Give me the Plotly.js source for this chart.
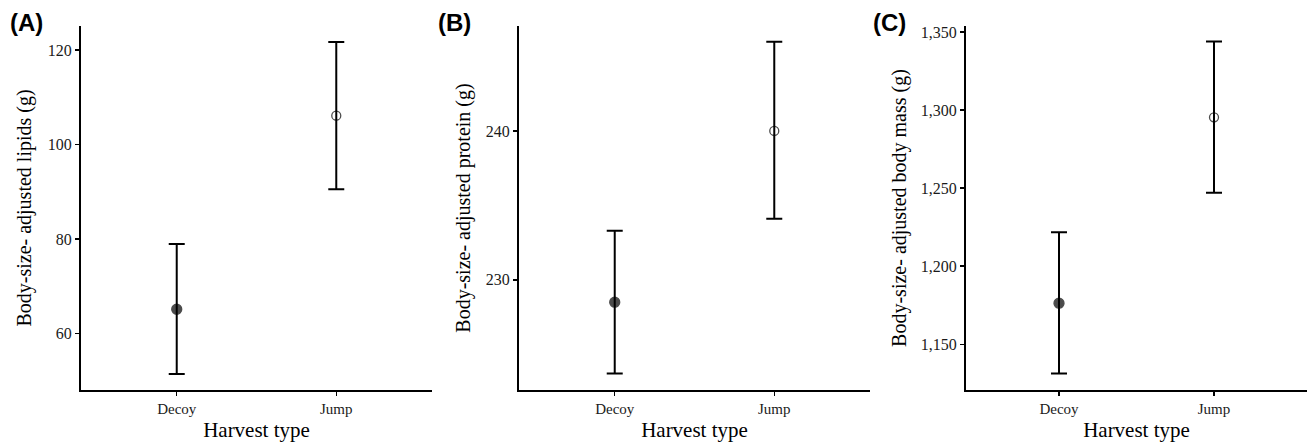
<!DOCTYPE html>
<html>
<head>
<meta charset="utf-8">
<script src="https://cdn.plot.ly/plotly-3.0.1.min.js"></script>
<style>html,body{margin:0;padding:0;background:#fff;}#chart{width:1309px;height:447px;}</style>
</head>
<body>
<div id="chart"></div>
<script>
// ---- data ----
const categories = ["Decoy", "Jump"];
const lipidsMean = [65.1, 106.1];
const lipidsUpper = [78.9, 121.7];
const lipidsLower = [51.4, 90.5];
const proteinMean = [228.5, 240.0];
const proteinUpper = [233.3, 246.0];
const proteinLower = [223.7, 234.1];
const massMean = [1176.3, 1295.3];
const massUpper = [1221.8, 1343.8];
const massLower = [1131.2, 1247.0];
const panelLabels = ["(A)", "(B)", "(C)"];
const yTitles = ["Body-size- adjusted lipids (g)", "Body-size- adjusted protein (g)", "Body-size- adjusted body mass (g)"];
const xTitle = "Harvest type";

const W = 1309, H = 447;
const serif = "Liberation Serif, Times New Roman, serif";
const yDom = [(H - 390) / H, (H - 26) / H];
const xDoms = [[81 / W, 432 / W], [519 / W, 870 / W], [966 / W, 1307 / W]];
const yRanges = [[48.0, 125.1], [222.6, 247.05], [1120.7, 1353.8]];
const yTicks = [[60, 80, 100, 120], [230, 240], [1150, 1200, 1250, 1300, 1350]];

const series = [
  [lipidsMean, lipidsUpper, lipidsLower],
  [proteinMean, proteinUpper, proteinLower],
  [massMean, massUpper, massLower]
];

const traces = [];
series.forEach((s, i) => {
  const [m, u, l] = s;
  const xa = i === 0 ? "x" : "x" + (i + 1);
  const ya = i === 0 ? "y" : "y" + (i + 1);
  traces.push({
    type: "scatter", mode: "markers",
    x: categories, y: m, xaxis: xa, yaxis: ya,
    marker: {
      symbol: ["circle", "circle-open"],
      size: [10, 9],
      color: "#000",
      line: {color: "#000", width: 1.3}
    },
    error_y: {
      type: "data", symmetric: false,
      array: u.map((v, k) => v - m[k]),
      arrayminus: l.map((v, k) => m[k] - v),
      color: "#000", thickness: 2, width: 8
    },
    showlegend: false, hoverinfo: "x+y"
  });
});

const layout = {
  width: W, height: H,
  margin: {l: 0, r: 0, t: 0, b: 0},
  paper_bgcolor: "#fff", plot_bgcolor: "#fff",
  showlegend: false,
  annotations: [],
  font: {family: serif, color: "#000"}
};

const yStandoff = [11, 10, 9];
for (let i = 0; i < 3; i++) {
  const sfx = i === 0 ? "" : String(i + 1);
  layout["xaxis" + sfx] = {
    domain: xDoms[i], anchor: "y" + sfx,
    type: "category", range: [-0.6, 1.6],
    showline: true, linecolor: "#000", linewidth: 2,
    ticks: "outside", ticklen: 4, tickwidth: 1.5, tickcolor: "#000",
    showgrid: false, zeroline: false,
    tickfont: {family: serif, size: 15, color: "#1a1a1a"},
    title: {text: xTitle, font: {family: serif, size: 21, color: "#000"}, standoff: 6},
    automargin: false, fixedrange: true
  };
  layout["yaxis" + sfx] = {
    domain: yDom, anchor: "x" + sfx,
    range: yRanges[i],
    tickmode: "array", tickvals: yTicks[i],
    ticktext: yTicks[i].map(v => v.toLocaleString("en-US")),
    showline: true, linecolor: "#000", linewidth: 2,
    ticks: "outside", ticklen: 4, tickwidth: 1.5, tickcolor: "#000",
    showgrid: false, zeroline: false,
    tickfont: {family: serif, size: 16, color: "#1a1a1a"},
    title: {text: yTitles[i], font: {family: serif, size: 20, color: "#000"}, standoff: yStandoff[i]},
    automargin: false, fixedrange: true
  };
  layout.annotations.push({
    text: "<b>" + panelLabels[i] + "</b>",
    xref: "paper", yref: "paper",
    x: [8, 436, 871][i] / W, y: 1 - 7 / H,
    xanchor: "left", yanchor: "top", showarrow: false,
    font: {family: "Liberation Sans, Arial, sans-serif", size: 24, color: "#000"}
  });
}

Plotly.newPlot("chart", traces, layout, {displayModeBar: false, staticPlot: true});
</script>
</body>
</html>
